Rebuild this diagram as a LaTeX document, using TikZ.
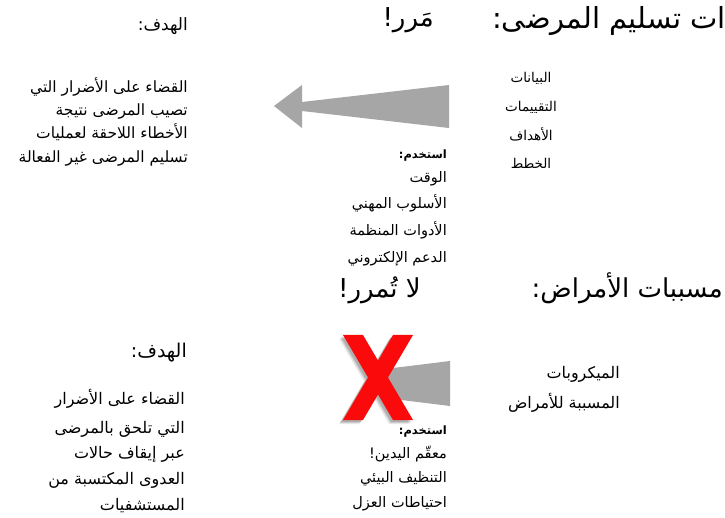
\documentclass[tikz,border=0pt]{standalone}
\usepackage{fontspec}
\newfontfamily\arabicfont[Script=Arabic]{DejaVu Sans}
\TeXXeTstate=1
\definecolor{arrowgray}{RGB}{166,166,166}
\definecolor{xred}{RGB}{250,10,10}
\newcommand{\fs}[1]{\fontsize{#1}{#1}\selectfont}
\tikzset{
  rtl/.style={inner sep=0pt, yshift={-0.38*#1pt}, font=\arabicfont\fs{#1}},
  title/.style={rtl=#1, anchor=base east},
  hadaf/.style={rtl=#1, anchor=base east},
  body/.style={rtl=#1, anchor=base east},
  listc/.style={rtl=13.5, anchor=base},
  usehead/.style={rtl=11.5, anchor=base east, font=\arabicfont\bfseries\fs{11.5}},
}
\begin{document}
\begin{tikzpicture}[x=1pt,y=-1pt]
\useasboundingbox[fill=white] (0,0) rectangle (725,518);

% ---------- top section ----------
\node[title=29] (t1a) at (726,17) {\beginR ات تسليم المرضى:\endR};
\node[title=26] (t1b) at (434,17) {\beginR مَرر!\endR};

\node[hadaf=17] (h1) at (188,24) {\beginR الهدف:\endR};
\node[body=15.5] (g1a) at (188,87)  {\beginR القضاء على الأضرار التي\endR};
\node[body=15.5] (g1b) at (188,110) {\beginR تصيب المرضى نتيجة\endR};
\node[body=15.5] (g1c) at (188,133) {\beginR الأخطاء اللاحقة لعمليات\endR};
\node[body=15.5] (g1d) at (188,157) {\beginR تسليم المرضى غير الفعالة\endR};

\node[listc] (l1a) at (531,77)  {\beginR البيانات\endR};
\node[listc] (l1b) at (531,106) {\beginR التقييمات\endR};
\node[listc] (l1c) at (531,135) {\beginR الأهداف\endR};
\node[listc] (l1d) at (531,163) {\beginR الخطط\endR};

\node[usehead] (u1) at (447,154) {\beginR استخدم:\endR};
\node[body=14.5] (u1a) at (447,177) {\beginR الوقت\endR};
\node[body=14.5] (u1b) at (447,203) {\beginR الأسلوب المهني\endR};
\node[body=14.5] (u1c) at (447,230) {\beginR الأدوات المنظمة\endR};
\node[body=14.5] (u1d) at (447,257) {\beginR الدعم الإلكتروني\endR};

\fill[arrowgray] (274,106) -- (302,85) -- (302,102) -- (449,85) -- (449,128)
  -- (302,111) -- (302,128) -- cycle;

% ---------- bottom section ----------
\node[title=26] (t2a) at (723,288) {\beginR مسببات الأمراض:\endR};
\node[title=26] (t2b) at (421,288) {\beginR لا تُمرر!\endR};

\node[hadaf=19] (h2) at (187,350) {\beginR الهدف:\endR};
\node[body=16] (g2a) at (185,398) {\beginR القضاء على الأضرار\endR};
\node[body=16] (g2b) at (185,427) {\beginR التي تلحق بالمرضى\endR};
\node[body=16] (g2c) at (185,452) {\beginR عبر إيقاف حالات\endR};
\node[body=16] (g2d) at (185,478) {\beginR العدوى المكتسبة من\endR};
\node[body=16] (g2e) at (185,504) {\beginR المستشفيات\endR};

\node[body=16] (m1) at (620,372) {\beginR الميكروبات\endR};
\node[body=16] (m2) at (620,402) {\beginR المسببة للأمراض\endR};

\node[usehead] (u2) at (447,430) {\beginR استخدم:\endR};
\node[body=14.5] (u2a) at (447,453) {\beginR معقّم اليدين!\endR};
\node[body=14.5] (u2b) at (447,477) {\beginR التنظيف البيئي\endR};
\node[body=14.5] (u2c) at (447,502) {\beginR احتياطات العزل\endR};

\fill[arrowgray] (385,369) -- (450,361) -- (450,406) -- (385,398) -- cycle;

% red X with soft shadow
\foreach \o/\a in {4/0.08,3/0.12,2/0.15}{
  \fill[black, opacity=\a, shift={(-\o,\o)}]
    (343,335) -- (363,335) -- (378,360.5) -- (393,335) -- (413,335) -- (388,377.5)
    -- (413,420) -- (393,420) -- (378,394.5) -- (363,420) -- (343,420) -- (368,377.5) -- cycle;
}
\fill[xred]
  (343,335) -- (363,335) -- (378,360.5) -- (393,335) -- (413,335) -- (388,377.5)
  -- (413,420) -- (393,420) -- (378,394.5) -- (363,420) -- (343,420) -- (368,377.5) -- cycle;
\end{tikzpicture}
\end{document}
